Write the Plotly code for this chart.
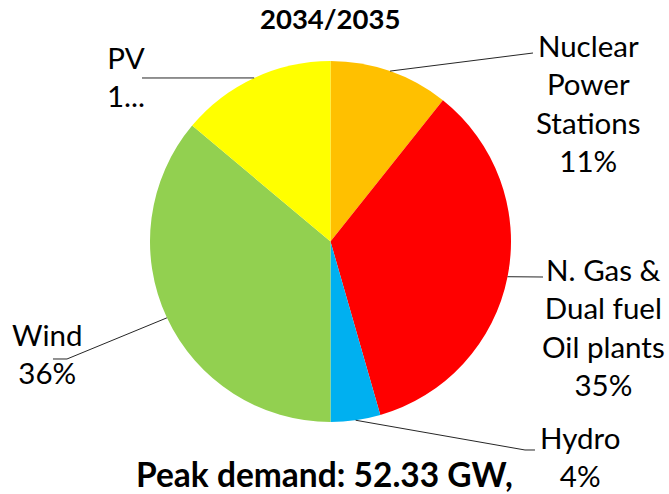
import math
import plotly.graph_objects as go

W, H = 669, 494

# ---- data ----
categories = ["Nuclear Power Stations", "N. Gas & Dual fuel Oil plants", "Hydro", "Wind", "PV"]
shares = [10.7, 34.85, 4.45, 36.1, 13.9]
label_names = ["Nuclear<br>Power<br>Stations", "N. Gas &<br>Dual fuel<br>Oil plants", "Hydro", "Wind", "PV"]
pct_texts = ["11%", "35%", "4%", "36%", "1..."]
colors = ["#FFC000", "#FF0000", "#00B0F0", "#92D050", "#FFFF00"]
title_text = "2034/2035"
footer_text = "Peak demand: 52.33 GW,"

# ---- layout geometry (pixels) ----
cx, cy, R = 330.5, 241.5, 180.5
label_pos = [(588, 103), (603, 327), (580, 456), (47, 353), (126, 77)]
# leader-line end points (after the edge point)
leader_ends = [
    [(533, 53)],
    [(543, 277)],
    [(525, 450), (535, 450)],
    [(67, 359), (53, 359)],
    [(142, 78)],
]
FONT = "Lato, Calibri, Carlito, sans-serif"


def px(x, y):
    return x / W, 1 - y / H


fig = go.Figure()
fig.add_trace(go.Pie(
    labels=categories,
    values=shares,
    sort=False,
    direction="clockwise",
    rotation=0,
    marker=dict(colors=colors, line=dict(width=0)),
    textinfo="none",
    hoverinfo="label+percent",
    showlegend=False,
    domain=dict(x=[(cx - R) / W, (cx + R) / W], y=[1 - (cy + R) / H, 1 - (cy - R) / H]),
))

total = sum(shares)
cum = 0.0
shapes = []
annotations = []
for i, v in enumerate(shares):
    mid = (cum + v / 2) / total * 2 * math.pi
    cum += v
    sx = cx + R * math.sin(mid)
    sy = cy - R * math.cos(mid)
    pts = [(sx, sy)] + leader_ends[i]
    path = "M " + " L ".join(f"{px(x, y)[0]:.5f},{px(x, y)[1]:.5f}" for x, y in pts)
    shapes.append(dict(type="path", xref="paper", yref="paper", path=path,
                       line=dict(color="#262626", width=1)))
    lx, ly = px(*label_pos[i])
    annotations.append(dict(
        x=lx, y=ly, xref="paper", yref="paper",
        text=f"{label_names[i]}<br>{pct_texts[i]}",
        showarrow=False, xanchor="center", yanchor="middle", align="center",
        font=dict(family=FONT, size=29.5, color="#000000"),
    ))

tx, ty = px(330, 19)
annotations.append(dict(x=tx, y=ty, xref="paper", yref="paper", text=f"<b>{title_text}</b>",
                        showarrow=False, xanchor="center", yanchor="middle",
                        font=dict(family=FONT, size=27.5, color="#000000")))
fx, fy = px(324, 474)
annotations.append(dict(x=fx, y=fy, xref="paper", yref="paper", text=f"<b>{footer_text}</b>",
                        showarrow=False, xanchor="center", yanchor="middle",
                        font=dict(family=FONT, size=33.5, color="#000000")))

fig.update_layout(
    width=W, height=H,
    margin=dict(l=0, r=0, t=0, b=0),
    paper_bgcolor="white", plot_bgcolor="white",
    shapes=shapes, annotations=annotations,
)
fig.write_html("out.html", config={"displayModeBar": False},
               post_script="document.body.style.margin='0';document.body.style.padding='0';document.body.style.overflow='hidden';")
